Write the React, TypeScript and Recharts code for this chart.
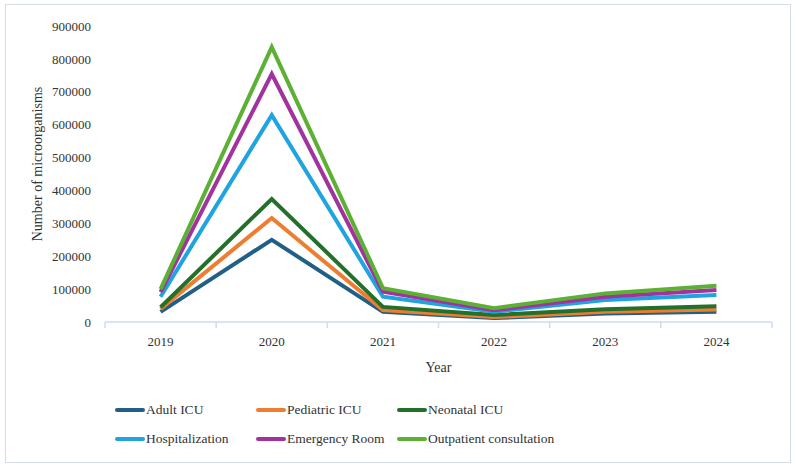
import { LineChart, Line, XAxis, YAxis, Legend } from 'recharts'

const YEARS = ['2019', '2020', '2021', '2022', '2023', '2024']

const ADULT_ICU      = [31000, 250000, 31000, 12000, 26000, 31000]
const PEDIATRIC_ICU  = [40000, 316000, 36000, 15000, 31000, 38000]
const NEONATAL_ICU   = [45000, 374000, 46000, 21000, 39000, 48000]
const HOSPITALIZATION = [77000, 629000, 77000, 31000, 67000, 82000]
const EMERGENCY_ROOM = [91000, 754000, 92000, 36000, 77000, 97000]
const OUTPATIENT     = [100000, 836000, 103000, 42000, 87000, 110000]

const Y_TICKS = [0, 100000, 200000, 300000, 400000, 500000, 600000, 700000, 800000, 900000]

const SERIES = [
  { key: 'adult', name: 'Adult ICU', color: '#215f86', values: ADULT_ICU },
  { key: 'pediatric', name: 'Pediatric ICU', color: '#ed7d31', values: PEDIATRIC_ICU },
  { key: 'neonatal', name: 'Neonatal ICU', color: '#22702a', values: NEONATAL_ICU },
  { key: 'hosp', name: 'Hospitalization', color: '#1fa4e0', values: HOSPITALIZATION },
  { key: 'er', name: 'Emergency Room', color: '#a0339e', values: EMERGENCY_ROOM },
  { key: 'outpatient', name: 'Outpatient consultation', color: '#5cb034', values: OUTPATIENT },
]

const data = YEARS.map((year, i) => {
  const row: Record<string, string | number> = { year }
  SERIES.forEach((s) => { row[s.key] = s.values[i] })
  return row
})

const FONT = "'Liberation Serif', 'DejaVu Serif', serif"
const AXIS_COLOR = '#cddcef'
const TEXT = '#333'

function YearTick(props: any) {
  const { x, y, payload, index, visibleTicksCount } = props
  const half = payload.offset ?? 0
  const axisY = y - 8
  return (
    <g>
      <line x1={x - half} x2={x - half} y1={axisY} y2={axisY + 6} stroke={AXIS_COLOR} strokeWidth={1.5} />
      {index === visibleTicksCount - 1 && (
        <line x1={x + half} x2={x + half} y1={axisY} y2={axisY + 6} stroke={AXIS_COLOR} strokeWidth={1.5} />
      )}
      <text x={x} y={axisY + 24} textAnchor="middle" fill={TEXT} fontSize={13} fontFamily={FONT}>
        {payload.value}
      </text>
    </g>
  )
}

function YLabel(props: any) {
  const { viewBox } = props
  const cy = viewBox.y + viewBox.height / 2 - 10
  return (
    <text
      x={42}
      y={cy}
      transform={`rotate(-90, 42, ${cy})`}
      textAnchor="middle"
      fill={TEXT}
      fontSize={14}
      fontFamily={FONT}
    >
      Number of microorganisms
    </text>
  )
}

function LegendBox() {
  return (
    <div
      style={{
        display: 'grid',
        gridTemplateColumns: '141px 141px 160px',
        gridAutoRows: '20px',
        rowGap: 9,
        fontFamily: FONT,
        fontSize: 13.5,
        color: TEXT,
      }}
    >
      {SERIES.map((s) => (
        <div key={s.key} style={{ display: 'flex', alignItems: 'center', height: 20 }}>
          <svg width={30} height={8} style={{ marginRight: 1 }}>
            <line x1={2} x2={28} y1={4} y2={4} stroke={s.color} strokeWidth={4} strokeLinecap="round" />
          </svg>
          <span style={{ whiteSpace: 'nowrap' }}>{s.name}</span>
        </div>
      ))}
    </div>
  )
}

export default function App() {
  return (
    <div style={{ position: 'absolute', left: 0, top: 0, width: 797, height: 468, background: '#fff' }}>
      <div
        style={{
          position: 'absolute',
          left: 5,
          top: 4,
          width: 784,
          height: 457,
          border: '1px solid #d3deea',
        }}
      />
      <LineChart
        width={797}
        height={468}
        data={data}
        margin={{ top: 26, right: 25, left: 0, bottom: 40 }}
      >
        <XAxis
          dataKey="year"
          scale="band"
          height={50}
          tick={<YearTick />}
          tickLine={false}
          axisLine={{ stroke: AXIS_COLOR, strokeWidth: 1.5 }}
          label={{ value: 'Year', position: 'insideBottom', offset: 0, fill: TEXT, fontSize: 14, fontFamily: FONT }}
        />
        <YAxis
          width={105}
          domain={[0, 900000]}
          ticks={Y_TICKS}
          interval={0}
          axisLine={false}
          tickLine={false}
          tickMargin={8}
          tick={{ fill: TEXT, fontSize: 13, fontFamily: FONT }}
          label={<YLabel />}
        />
        <Legend
          verticalAlign="bottom"
          content={<LegendBox />}
          wrapperStyle={{ left: 115, top: 400, width: 460, height: 56 }}
        />
        {SERIES.map((s) => (
          <Line
            key={s.key}
            type="linear"
            dataKey={s.key}
            name={s.name}
            stroke={s.color}
            strokeWidth={4}
            dot={false}
            activeDot={false}
            isAnimationActive={false}
          />
        ))}
      </LineChart>
    </div>
  )
}
